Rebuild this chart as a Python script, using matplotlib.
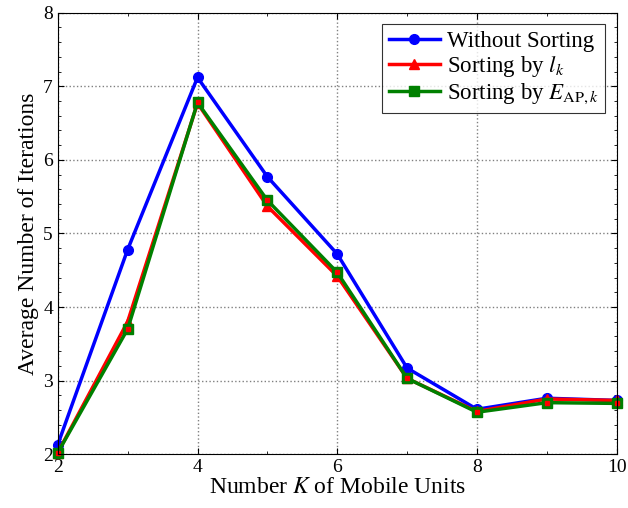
import matplotlib
matplotlib.use("Agg")
from matplotlib import pyplot as plt
from matplotlib.ticker import AutoMinorLocator

plt.rcParams['font.family'] = 'serif'
plt.rcParams['font.serif'] = ['Liberation Serif', 'DejaVu Serif']
plt.rcParams['mathtext.fontset'] = 'stix'

K = [2, 3, 4, 5, 6, 7, 8, 9, 10]
without_sorting = [2.13, 4.78, 7.12, 5.77, 4.72, 3.17, 2.61, 2.76, 2.73]
sorting_lk = [2.02, 3.80, 6.77, 5.37, 4.42, 3.03, 2.58, 2.75, 2.73]
sorting_eap = [2.02, 3.70, 6.78, 5.45, 4.47, 3.03, 2.57, 2.70, 2.69]

fig = plt.figure(figsize=(6.28, 5.08), dpi=100)
ax = fig.add_axes([0.092, 0.106, 0.890, 0.869])

ax.plot(K, without_sorting, '-o', color='blue', lw=2.5, ms=7, label='Without Sorting', clip_on=False)
ax.plot(K, sorting_lk, '-^', color='red', lw=2.5, ms=7, label='Sorting by $l_k$', clip_on=False)
ax.plot(K, sorting_eap, '-s', color='green', lw=2.5, ms=7,
        mfc='green', mec='green', label=r'Sorting by $E_{\mathrm{AP},k}$', clip_on=False)
# small red dots inside the squares
ax.plot(K, sorting_eap, 's', color='red', ms=2.5, lw=0, clip_on=False)

ax.set_xlim(2, 10)
ax.set_ylim(2, 8)
ax.set_xticks([2, 4, 6, 8, 10])
ax.set_yticks(range(2, 9))
ax.xaxis.set_minor_locator(AutoMinorLocator(2))
ax.yaxis.set_minor_locator(AutoMinorLocator(5))
ax.tick_params(which='both', direction='in', top=True, right=True, labelsize=14)
ax.tick_params(which='major', length=4)
ax.tick_params(which='minor', length=2)
ax.grid(True, which='major', linestyle=':', color='gray', lw=1)

ax.set_xlabel('Number $K$ of Mobile Units', fontsize=17, labelpad=1)
ax.set_ylabel('Average Number of Iterations', fontsize=17, labelpad=3)

leg = ax.legend(loc='upper right', fontsize=16.5, fancybox=False, edgecolor='black',
                handlelength=2.2, handletextpad=0.3, borderpad=0.3, labelspacing=0.1,
                borderaxespad=0.5)
leg.get_frame().set_linewidth(0.8)

fig.savefig('out.png', dpi=100)
